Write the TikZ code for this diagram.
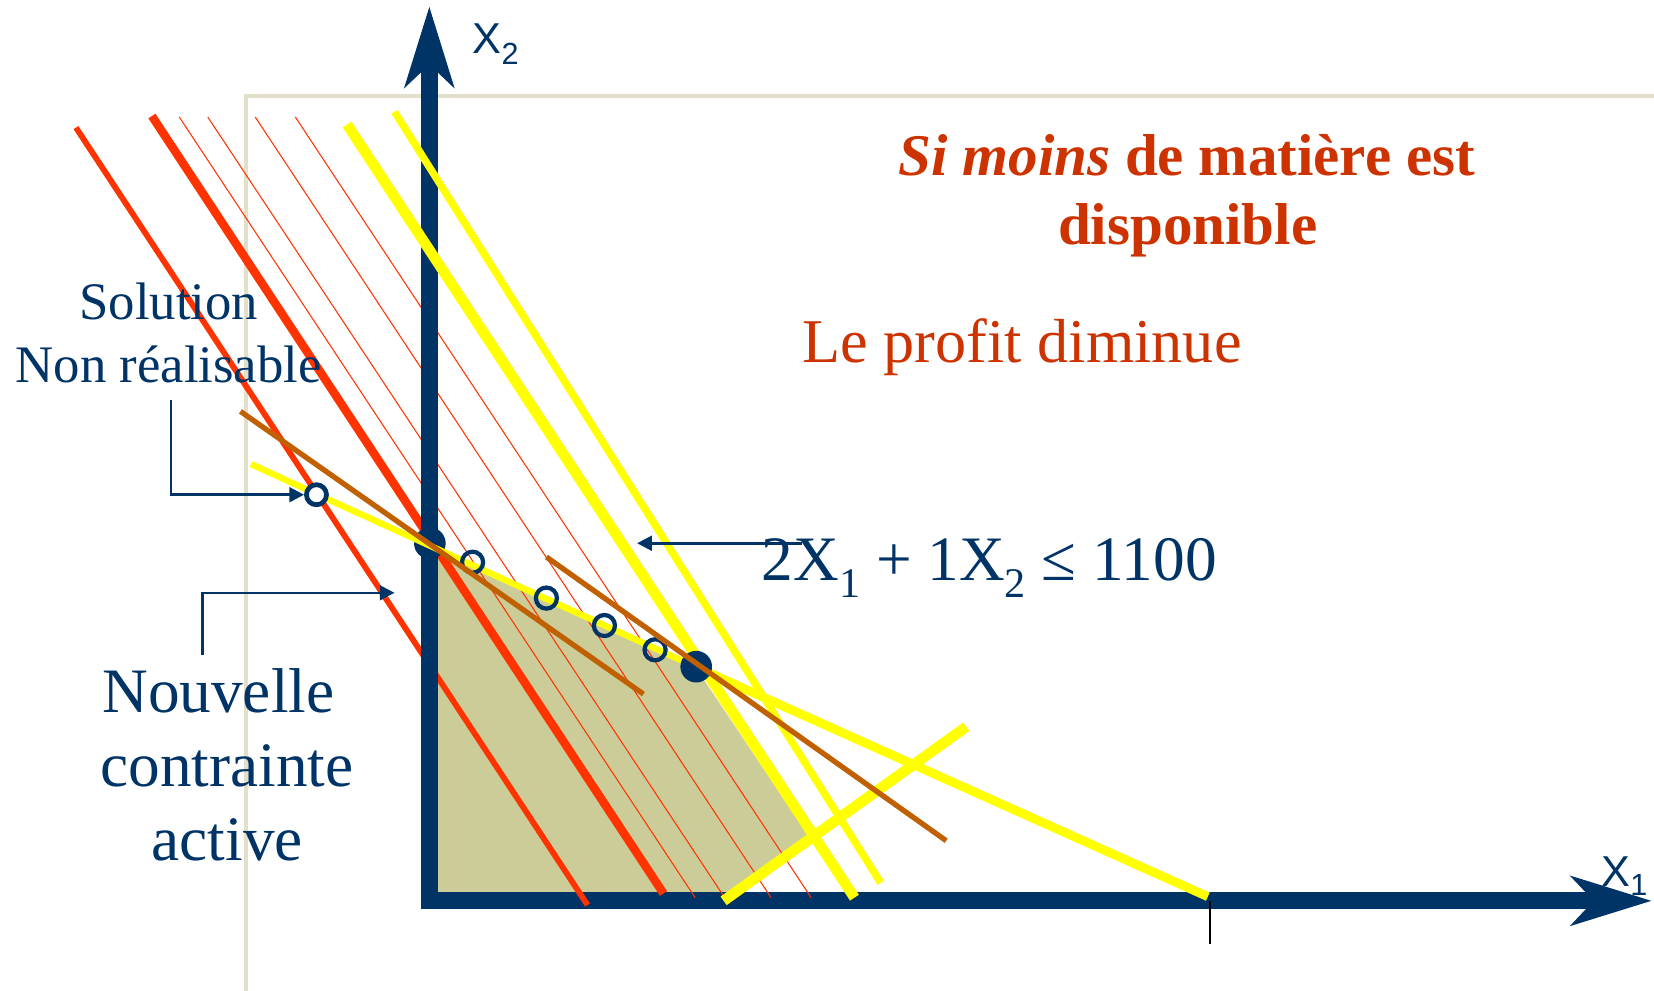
\documentclass[tikz,border=0pt]{standalone}
\usepackage{fontspec}
\setmainfont{Liberation Serif}
\newfontfamily\sansf{Liberation Sans}
\usetikzlibrary{arrows.meta}
\definecolor{navy}{HTML}{003366}
\definecolor{redl}{HTML}{FF3300}
\definecolor{redt}{HTML}{CC3300}
\definecolor{yel}{HTML}{FFFF00}
\definecolor{brn}{HTML}{C06000}
\definecolor{olive}{HTML}{CCCC99}
\definecolor{frm}{HTML}{E2E0CA}
\newcommand{\lsub}[3]{\raisebox{-#1}{\fontsize{#2}{#2}\selectfont #3}}
\begin{document}
\begin{tikzpicture}[x=1pt,y=-1pt,
  lbl/.style={anchor=base,inner sep=0pt,text=navy,font=\fontsize{50}{60}\selectfont},
  lblbig/.style={anchor=base,inner sep=0pt,text=navy,font=\fontsize{60}{70}\selectfont},
  redtxt/.style={anchor=base,inner sep=0pt,text=redt},
  axisline/.style={draw=navy,line width=16pt,
     arrows={-Stealth[length=76pt,width=46pt,inset=21pt]}},
  redthick/.style={draw=redl,line width=8pt},
  redmed/.style={draw=redl,line width=5.5pt},
  redthin/.style={draw=redl,line width=1pt},
  yelthick/.style={draw=yel,line width=10pt},
  yelmed/.style={draw=yel,line width=7pt},
  yelthin/.style={draw=yel,line width=6pt},
  brnline/.style={draw=brn,line width=5pt},
  bigdot/.style={circle,fill=navy,inner sep=0pt,minimum size=30pt},
  ocirc/.style={circle,draw=navy,line width=4pt,inner sep=0pt,minimum size=20pt},
  ptr/.style={draw=navy,line width=2.5pt,-{Triangle[length=14pt,width=14pt]}},
]
\useasboundingbox (0,0) rectangle (1568,939);
% frame
\draw[frm,line width=3.5pt] (233,939) -- (233,91) -- (1568,91);
% feasible region
\fill[olive] (407,515) -- (659,632) -- (766,792) -- (686,854) -- (407,854) -- cycle;
% x axis (under the red lines)
\coordinate (xt) at (1566,854);
\coordinate (org) at (399,854);
\draw[axisline] (org) -- (xt);
% red iso-profit lines
\draw[redmed] (72,121) -- (557,858);
\draw[redthick] (144,110) -- (629,847);
\draw[redthin] (170,111) -- (659,851);
\draw[redthin] (197,111) -- (687,851);
\draw[redthin] (242,111) -- (731,851);
\draw[redthin] (280,111) -- (769,851);
% y axis (over the red lines)
\coordinate (yb) at (407,862);
\coordinate (yt) at (407,6);
\draw[axisline] (yb) -- (yt);
\node[bigdot] (d1) at (407.5,515) {};
% yellow constraint lines
\draw[yelthick] (329,118) -- (810,851);
\draw[yelmed] (374,106) -- (835,837);
\draw[yelthin] (238,440) -- (659,632);
\draw[yelthick,line width=8.5pt] (659,632) -- (1145,850);
\draw[yelthick] (686,854) -- (916,689);
% points
\node[bigdot] (d2) at (660,632) {};
\node[ocirc] (c1) at (448,533) {};
\node[ocirc] (c2) at (518,567) {};
\node[ocirc] (c3) at (573,593) {};
\node[ocirc] (c4) at (621,616) {};
% brown lines
\draw[brnline] (228,390) -- (610,658);
\draw[brnline] (518,528) -- (897,797);
\node[ocirc,fill=white,line width=4.5pt,minimum size=19pt] (c0) at (300,469) {};
% tick
\coordinate (tk1) at (1147,854);
\coordinate (tk2) at (1147,895);
\draw[black,line width=1.5pt] (tk1) -- (tk2);
% axis labels
\node[anchor=base west,inner sep=0pt,text=navy,font=\sansf\fontsize{41}{41}\selectfont] (lx2) at (448,50.6) {X\lsub{11pt}{29}{2}};
\node[anchor=base west,inner sep=0pt,text=navy,font=\sansf\fontsize{41}{41}\selectfont] (lx1) at (1518,840) {X\lsub{9pt}{29}{1}};
% texts
\node[redtxt,font=\fontsize{56}{66}\selectfont\bfseries] (t1) at (1125,166) {\textit{Si moins} de matière est};
\node[redtxt,font=\fontsize{56}{66}\selectfont\bfseries] (t2) at (1126,232) {disponible};
\node[redtxt,font=\fontsize{59}{70}\selectfont] (t3) at (969,344) {Le profit diminue};
\node[lbl] (s1) at (160,303) {Solution};
\node[lbl] (s2) at (160,363) {Non réalisable};
\node[lblbig] (n1) at (207,675) {Nouvelle};
\node[lblbig] (n2) at (215,746) {contrainte};
\node[lblbig] (n3) at (215.5,816) {active};
\node[anchor=base west,inner sep=0pt,text=navy,font=\fontsize{60}{70}\selectfont] (eq) at (722,550) {2X\lsub{16pt}{40}{1} + 1X\lsub{16pt}{40}{2} ≤ 1100};
% pointers
\coordinate (solA) at (162,379);
\draw[ptr] (solA) |- (c0.west);
\coordinate (nvA) at (192,621);
\coordinate (nvB) at (374,562);
\draw[ptr] (nvA) |- (nvB);
\coordinate (eqA) at (760,515);
\coordinate (eqB) at (604,515);
\draw[ptr] (eqA) -- (eqB);
\end{tikzpicture}
\end{document}
